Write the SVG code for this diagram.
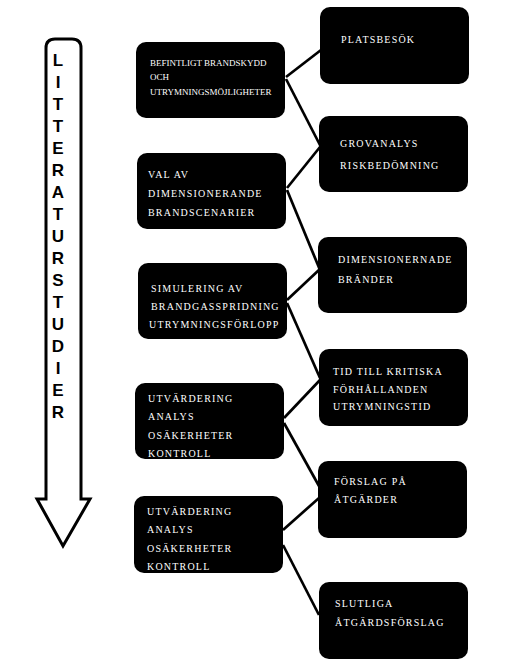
<svg xmlns="http://www.w3.org/2000/svg" width="505" height="667" viewBox="0 0 505 667">
<style>
.box{fill:#000}
.t{font-family:"Liberation Serif",serif;font-size:10px;fill:#fff;letter-spacing:1.2px}
.ts{font-family:"Liberation Serif",serif;font-size:9px;fill:#fff}
.c{stroke:#000;stroke-width:2.7;fill:none}
.lit{font-family:"Liberation Sans",Arial,sans-serif;font-size:17px;font-weight:bold;fill:#000;text-anchor:middle}
</style>
<rect width="505" height="667" fill="#fff"/>
<g id="arrow">
<path d="M46,499 L46,48 Q46,39 55,39 L72,39 Q81,39 81,48 L81,499 L90,499 L63,546 L37,499 Z" fill="#fff" stroke="#000" stroke-width="3" stroke-linejoin="miter"/>
<text class="lit" x="58" y="66">L</text>
<text class="lit" x="58" y="88">I</text>
<text class="lit" x="58" y="110">T</text>
<text class="lit" x="58" y="132">T</text>
<text class="lit" x="58" y="154">E</text>
<text class="lit" x="58" y="176">R</text>
<text class="lit" x="58" y="198">A</text>
<text class="lit" x="58" y="220">T</text>
<text class="lit" x="58" y="242">U</text>
<text class="lit" x="58" y="264">R</text>
<text class="lit" x="58" y="286">S</text>
<text class="lit" x="58" y="308">T</text>
<text class="lit" x="58" y="330">U</text>
<text class="lit" x="58" y="352">D</text>
<text class="lit" x="58" y="374">I</text>
<text class="lit" x="58" y="396">E</text>
<text class="lit" x="58" y="418">R</text>
</g>
<g id="connectors">
<line class="c" x1="286" y1="77" x2="321" y2="50"/>
<line class="c" x1="286" y1="79" x2="321" y2="147"/>
<line class="c" x1="287" y1="188" x2="320" y2="147"/>
<line class="c" x1="287" y1="190" x2="320" y2="270"/>
<line class="c" x1="287" y1="300" x2="320" y2="269"/>
<line class="c" x1="287" y1="303" x2="320" y2="378"/>
<line class="c" x1="284" y1="418" x2="320" y2="380"/>
<line class="c" x1="284" y1="423" x2="319" y2="486"/>
<line class="c" x1="283" y1="530" x2="319" y2="498"/>
<line class="c" x1="283" y1="545" x2="319" y2="615"/>
</g>
<g id="n1"><rect class="box" x="136" y="42" width="149" height="76" rx="10"/>
<text class="ts" x="150" y="66">BEFINTLIGT BRANDSKYDD</text>
<text class="ts" x="150" y="80">OCH</text>
<text class="ts" x="150" y="95">UTRYMNINGSMÖJLIGHETER</text></g>
<g id="n2"><rect class="box" x="137" y="153" width="149" height="76" rx="10"/>
<text class="t" x="148" y="178">VAL AV</text>
<text class="t" x="148" y="197">DIMENSIONERANDE</text>
<text class="t" x="148" y="216">BRANDSCENARIER</text></g>
<g id="n3"><rect class="box" x="138" y="263" width="149" height="76" rx="10"/>
<text class="t" x="151" y="292">SIMULERING AV</text>
<text class="t" x="151" y="310">BRANDGASSPRIDNING</text>
<text class="t" x="149" y="328" letter-spacing="0.6">UTRYMNINGSFÖRLOPP</text></g>
<g id="n4"><rect class="box" x="135" y="383" width="149" height="76" rx="10"/>
<text class="t" x="148" y="402">UTVÄRDERING</text>
<text class="t" x="148" y="420">ANALYS</text>
<text class="t" x="148" y="439">OSÄKERHETER</text>
<text class="t" x="148" y="457">KONTROLL</text></g>
<g id="n5"><rect class="box" x="134" y="496" width="149" height="77" rx="10"/>
<text class="t" x="147" y="515">UTVÄRDERING</text>
<text class="t" x="147" y="533">ANALYS</text>
<text class="t" x="147" y="552">OSÄKERHETER</text>
<text class="t" x="147" y="570">KONTROLL</text></g>
<g id="r1"><rect class="box" x="320" y="7" width="149" height="77" rx="10"/>
<text class="t" x="341" y="43">PLATSBESÖK</text></g>
<g id="r2"><rect class="box" x="319" y="116" width="149" height="76" rx="10"/>
<text class="t" x="340" y="147">GROVANALYS</text>
<text class="t" x="340" y="169">RISKBEDÖMNING</text></g>
<g id="r3"><rect class="box" x="318" y="237" width="149" height="76" rx="10"/>
<text class="t" x="338" y="263">DIMENSIONERNADE</text>
<text class="t" x="338" y="283">BRÄNDER</text></g>
<g id="r4"><rect class="box" x="319" y="349" width="149" height="77" rx="10"/>
<text class="t" x="333" y="375">TID TILL KRITISKA</text>
<text class="t" x="333" y="393">FÖRHÅLLANDEN</text>
<text class="t" x="333" y="410">UTRYMNINGSTID</text></g>
<g id="r5"><rect class="box" x="318" y="461" width="149" height="77" rx="10"/>
<text class="t" x="334" y="485">FÖRSLAG PÅ</text>
<text class="t" x="334" y="503">ÅTGÄRDER</text></g>
<g id="r6"><rect class="box" x="319" y="582" width="149" height="77" rx="10"/>
<text class="t" x="335" y="607">SLUTLIGA</text>
<text class="t" x="335" y="626">ÅTGÄRDSFÖRSLAG</text></g>
</svg>
